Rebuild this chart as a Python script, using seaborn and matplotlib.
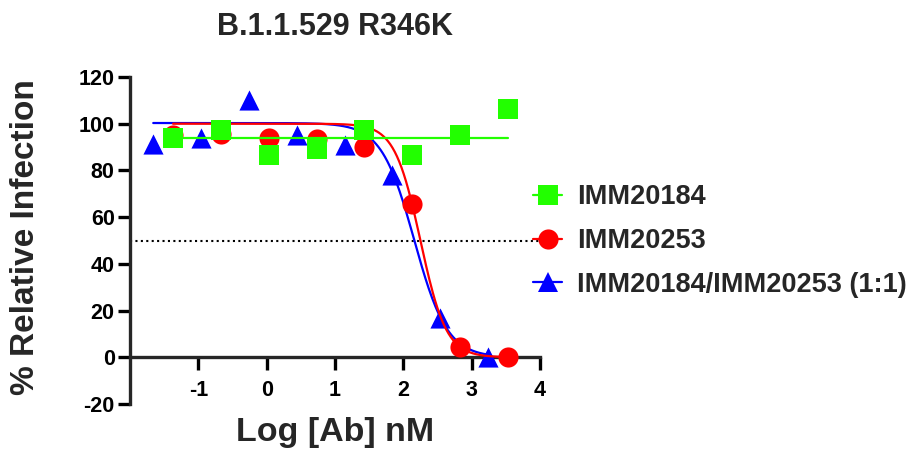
import numpy as np
import pandas as pd
import matplotlib
matplotlib.use("Agg")
import matplotlib.pyplot as plt
from matplotlib.lines import Line2D
import seaborn as sns

sns.set_style("ticks")
plt.rcParams['font.family'] = ['Liberation Sans', 'DejaVu Sans']
plt.rcParams['font.weight'] = 'bold'
plt.rcParams['axes.unicode_minus'] = False

# data (log nM vs % relative infection)
x_184 = [-1.37, -0.67, 0.03, 0.73, 1.43, 2.13, 2.83, 3.53]
y_184 = [94, 97.5, 86.5, 89, 97.5, 86.5, 95, 106.5]

x_253 = [-1.37, -0.67, 0.03, 0.73, 1.43, 2.13, 2.83, 3.53]
y_253 = [95, 95.5, 94, 93.5, 90, 65.5, 4.5, 0.0]

x_mix = [-1.66, -0.96, -0.26, 0.44, 1.14, 1.84, 2.54, 3.24]
y_mix = [91.5, 94, 110, 95, 91, 78, 17, 0.0]

# fitted curve parameters (4PL)
fit_184 = dict(top=94, bottom=94, logic50=2.0, hill=1.0)
fit_253 = dict(top=100, bottom=0, logic50=2.25, hill=2.3)
fit_mix = dict(top=100.3, bottom=0, logic50=2.16, hill=1.8)

labels = ["IMM20184", "IMM20253", "IMM20184/IMM20253 (1:1)"]
green, red, blue = "#22FF00", "#FF0000", "#0000FF"


def four_pl(x, top, bottom, logic50, hill):
    return bottom + (top - bottom) / (1 + 10 ** ((x - logic50) * hill))


def curve(xs, p):
    xx = np.linspace(min(xs), max(xs), 300)
    return pd.DataFrame({"x": xx, "y": four_pl(xx, **p)})


fig = plt.figure(figsize=(9.16, 4.53), dpi=100)
ax = fig.add_axes([130 / 916, 1 - 404 / 453, 410 / 916, 327 / 453])

ax.plot([-2, 4], [50, 50], color="black", lw=1.5, ls=(0, (1, 1.6)), zorder=1)

# blue
c = curve(x_mix, fit_mix)
sns.lineplot(data=c, x="x", y="y", color=blue, lw=1.6, ax=ax, zorder=2)
sns.scatterplot(x=x_mix, y=y_mix, marker="^", s=14.5 ** 2, color=blue,
                linewidth=0, ax=ax, zorder=3)
# red
c = curve(x_253, fit_253)
sns.lineplot(data=c, x="x", y="y", color=red, lw=1.6, ax=ax, zorder=4)
sns.scatterplot(x=x_253, y=y_253, marker="o", s=14.5 ** 2, color=red,
                linewidth=0, ax=ax, zorder=5)
# green
c = curve(x_184, fit_184)
sns.lineplot(data=c, x="x", y="y", color=green, lw=1.6, ax=ax, zorder=6)
sns.scatterplot(x=x_184, y=y_184, marker="s", s=15 ** 2, color=green,
                linewidth=0, ax=ax, zorder=7)

ax.set_xlim(-2, 4)
ax.set_ylim(-20, 120)
ax.set_xticks([-1, 0, 1, 2, 3, 4])
ax.set_yticks([-20, 0, 20, 40, 60, 80, 100, 120])
ax.spines['top'].set_visible(False)
ax.spines['right'].set_visible(False)
ax.spines['bottom'].set_position(('data', 0))
for s in ['left', 'bottom']:
    ax.spines[s].set_linewidth(2.4)
ax.tick_params(axis='both', width=2.4, length=9, labelsize=15.5, colors='black')
ax.tick_params(axis='x', pad=7)
ax.tick_params(axis='y', pad=2)
for t in ax.get_xticklabels() + ax.get_yticklabels():
    t.set_fontweight('bold')

ax.set_xlabel("Log [Ab] nM", fontsize=24.5, fontweight='bold', va='center')
ax.xaxis.set_label_coords(0.5, -0.087)
ax.set_ylabel("% Relative Infection", fontsize=24, fontweight='bold', va='center')
ax.yaxis.set_label_coords(-0.255, 0.51)
ax.set_title("B.1.1.529 R346K", fontsize=22, fontweight='bold', pad=30)

handles = [
    Line2D([], [], color=green, lw=1.6, marker='s', ms=15, mew=0),
    Line2D([], [], color=red, lw=1.6, marker='o', ms=14.5, mew=0),
    Line2D([], [], color=blue, lw=1.6, marker='^', ms=14.5, mew=0),
]
leg = fig.legend(handles, labels, loc='center left',
                 bbox_to_anchor=(533 / 916, 1 - 241 / 453), frameon=False,
                 prop={'size': 19.5, 'weight': 'bold'}, handlelength=1.08,
                 handletextpad=0.55, labelspacing=0.66, borderpad=0,
                 borderaxespad=0)

fig.savefig("out.png", dpi=100)
